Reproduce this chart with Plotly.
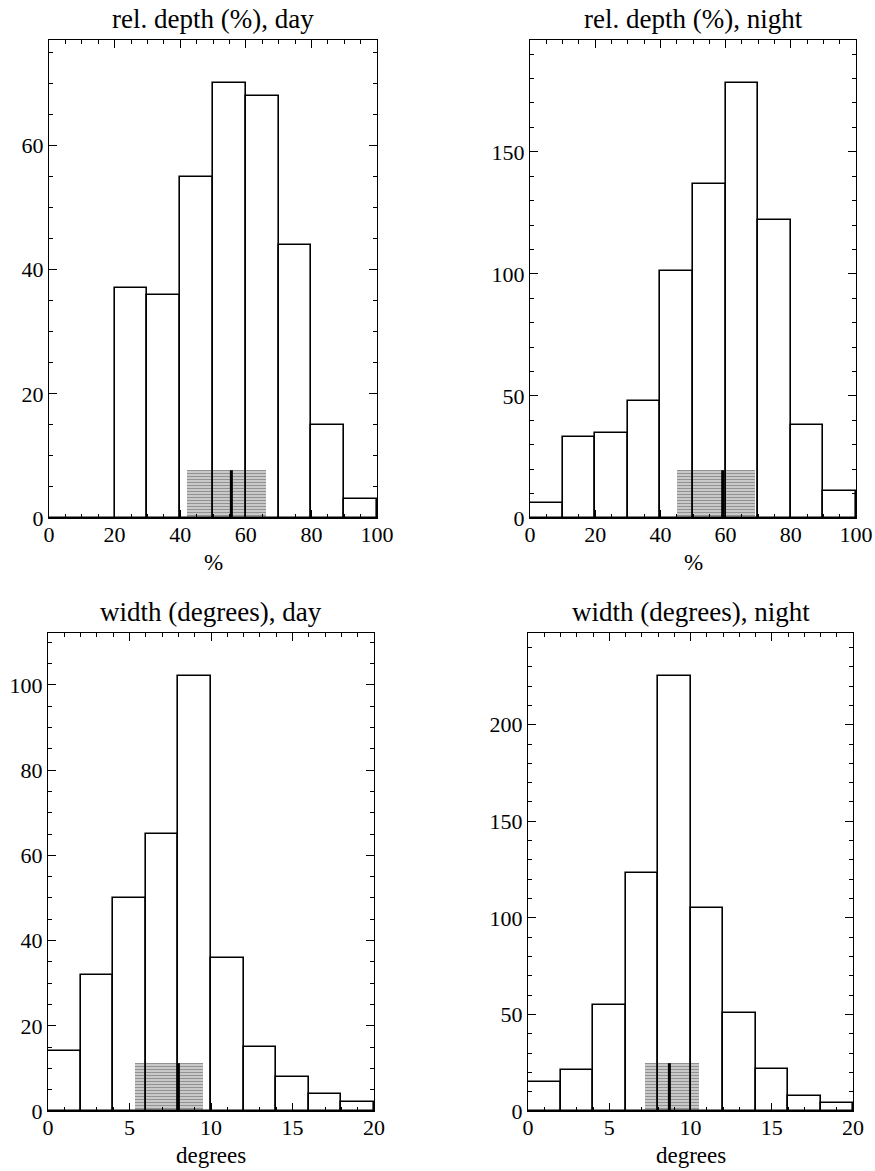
import plotly.graph_objects as go

# ---------------- data ----------------
depth_bin_left = [0, 10, 20, 30, 40, 50, 60, 70, 80, 90]
depth_bin_width = 10
depth_day_counts = [0, 0, 37, 36, 55, 70, 68, 44, 15, 3]
depth_night_counts = [6, 33, 35, 48, 101, 137, 178, 122, 38, 11]

width_bin_left = [0, 2, 4, 6, 8, 10, 12, 14, 16, 18]
width_bin_width = 2
width_day_counts = [14, 32, 50, 65, 102, 36, 15, 8, 4, 2]
width_night_counts = [15, 21, 55, 123, 225, 105, 51, 22, 8, 4]

# hatched box: low, high, centre line
depth_day_box = [42.0, 66.3, 55.6]
depth_night_box = [45.0, 69.1, 59.1]
width_day_box = [5.35, 9.5, 8.0]
width_night_box = [7.2, 10.5, 8.7]

panel_titles = ["rel. depth (%), day", "rel. depth (%), night",
                "width (degrees), day", "width (degrees), night"]
x_titles = ["%", "%", "degrees", "degrees"]
x_ranges = [[0, 100], [0, 100], [0, 20], [0, 20]]
x_dticks = [20, 20, 5, 5]
x_minor = [5, 5, 1, 1]
y_dticks = [20, 50, 20, 50]
y_minor = [5, 10, 5, 10]

panels = [
    (depth_bin_left, depth_bin_width, depth_day_counts, depth_day_box),
    (depth_bin_left, depth_bin_width, depth_night_counts, depth_night_box),
    (width_bin_left, width_bin_width, width_day_counts, width_day_box),
    (width_bin_left, width_bin_width, width_night_counts, width_night_box),
]

W, H = 875, 1171
# pixel geometry of the four plot areas: (left, right, top, bottom)
geom = [(49, 377, 40, 518), (530, 856, 40, 518),
        (48, 374, 633, 1111), (528, 853, 633, 1111)]

FONT = "Liberation Serif, Times New Roman, serif"

fig = go.Figure()
layout = {}
annotations = []

for i, ((lefts, bw, counts, box), (l, r, t, b)) in enumerate(zip(panels, geom)):
    n = i + 1
    xa = "x" if n == 1 else f"x{n}"
    ya = "y" if n == 1 else f"y{n}"
    centers = [v + bw / 2 for v in lefts]
    ymax = 1.1 * max(counts)
    boxh = 0.11 * max(counts)

    fig.add_trace(go.Bar(
        x=centers, y=counts, width=[bw] * len(counts),
        marker=dict(color="rgba(0,0,0,0)", line=dict(color="black", width=1.6)),
        xaxis=xa, yaxis=ya, showlegend=False, hoverinfo="x+y"))

    lo, hi, mid = box
    fig.add_trace(go.Bar(
        x=[(lo + hi) / 2], y=[boxh], width=[hi - lo],
        marker=dict(color="rgba(0,0,0,0)", line=dict(width=0),
                    pattern=dict(shape="-", size=3, solidity=0.67,
                                 fgcolor="black", bgcolor="rgba(0,0,0,0)")),
        opacity=0.85,
        xaxis=xa, yaxis=ya, showlegend=False, hoverinfo="skip"))

    fig.add_trace(go.Scatter(
        x=[mid, mid], y=[0, boxh], mode="lines",
        line=dict(color="black", width=3),
        xaxis=xa, yaxis=ya, showlegend=False, hoverinfo="skip"))

    xd = [l / W, r / W]
    yd = [(H - b) / H, (H - t) / H]
    common = dict(showline=True, linecolor="black", linewidth=1, mirror="allticks",
                  ticks="inside", ticklen=8, tickcolor="black", tickwidth=1,
                  showgrid=False, zeroline=False, automargin=False,
                  tickfont=dict(family=FONT, size=22, color="black"))
    layout["xaxis" if n == 1 else f"xaxis{n}"] = dict(
        domain=xd, anchor=ya, range=x_ranges[i], dtick=x_dticks[i], tick0=0,
        minor=dict(ticks="inside", dtick=x_minor[i], ticklen=4, tickcolor="black"),
        ticklabelstandoff=-3, **common)
    layout["yaxis" if n == 1 else f"yaxis{n}"] = dict(
        domain=yd, anchor=xa, range=[0, ymax], dtick=y_dticks[i], tick0=0,
        minor=dict(ticks="inside", dtick=y_minor[i], ticklen=4, tickcolor="black"),
        ticklabelstandoff=0, **common)

    annotations.append(dict(
        text=panel_titles[i], xref="paper", yref="paper",
        x=(l + r) / 2 / W, y=(H - t + 4) / H, xanchor="center", yanchor="bottom",
        showarrow=False, font=dict(family=FONT, size=27, color="black")))
    annotations.append(dict(
        text=x_titles[i], xref="paper", yref="paper",
        x=(l + r) / 2 / W, y=(H - b - 30) / H, xanchor="center", yanchor="top",
        showarrow=False, font=dict(family=FONT, size=23, color="black")))

fig.update_layout(
    width=W, height=H, margin=dict(l=0, r=0, t=0, b=0),
    paper_bgcolor="white", plot_bgcolor="white",
    barmode="overlay", bargap=0, annotations=annotations, **layout)

fig.write_html("out.html",
               config={"displayModeBar": False},
               post_script="document.body.style.margin='0';"
                           "document.body.style.overflow='hidden';")
